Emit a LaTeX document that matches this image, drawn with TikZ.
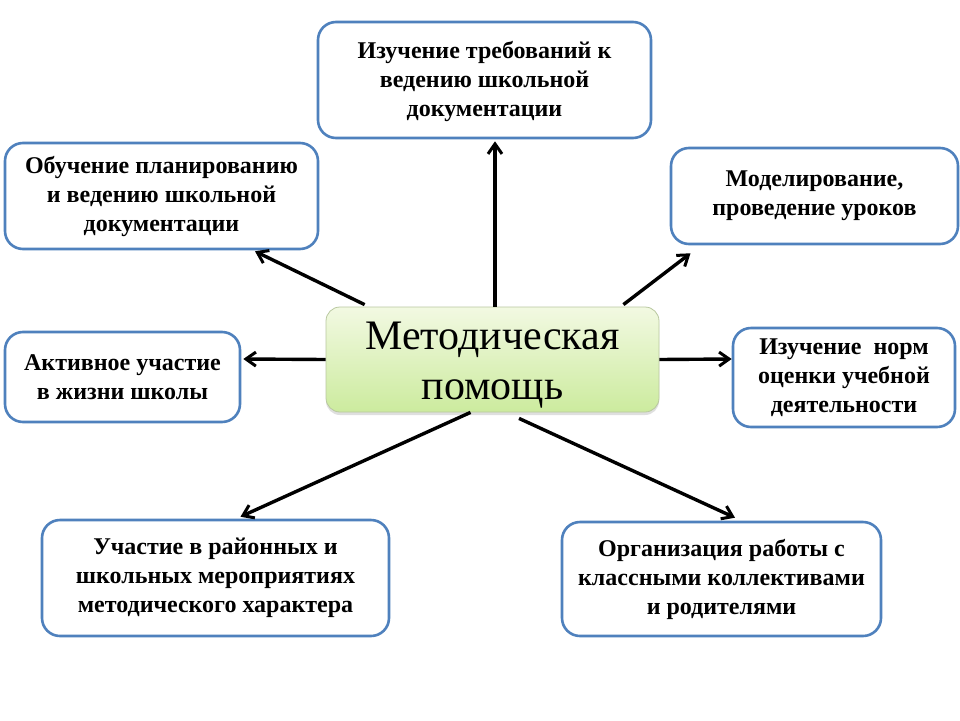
\documentclass[tikz,border=0pt]{standalone}
\usepackage{fontspec}
\setmainfont{Liberation Serif}
\usetikzlibrary{arrows.meta,shadows}
\definecolor{boxblue}{RGB}{79,129,189}
\definecolor{gtop}{RGB}{242,249,226}
\definecolor{gbot}{RGB}{204,235,158}
\definecolor{gborder}{RGB}{185,200,160}
\begin{document}
\begin{tikzpicture}[x=1pt,y=-1pt,
  infobox/.style={draw=boxblue, line width=2.6pt, rounded corners=18pt, fill=white,
    align=center, inner sep=0pt,
    font=\fontsize{24}{29}\selectfont\bfseries},
  centerbox/.style={draw=gborder, line width=0.8pt, rounded corners=14pt,
    top color=gtop, bottom color=gbot, align=center, inner sep=0pt,
    minimum width=333pt, minimum height=105pt,
    drop shadow={opacity=0.25, shadow xshift=0pt, shadow yshift=-3pt},
    font=\fontsize{42}{50}\selectfont},
  arr/.style={-{Straight Barb[length=10pt,width=14pt,line width=3pt]}, line width=3.4pt, black}
]
\useasboundingbox (0,0) rectangle (960,720);
\fill[white] (0,0) rectangle (960,720);

\node[centerbox] (c) at (492.5,359.5)
  {\raisebox{-5pt}[\height][\depth]{\begin{tabular}{@{}c@{}}Методическая\\помощь\end{tabular}}};

\node[infobox, minimum width=333pt, minimum height=116pt] (t) at (484.5,80)
  {\raisebox{-2pt}[\height][\depth]{\begin{tabular}{@{}c@{}}Изучение требований к\\ведению школьной\\документации\end{tabular}}};
\node[infobox, minimum width=313pt, minimum height=106pt] (tl) at (161.5,196)
  {Обучение планированию\\и ведению школьной\\документации};
\node[infobox, minimum width=287pt, minimum height=96pt] (tr) at (814.5,196)
  {Моделирование,\\проведение уроков};
\node[infobox, minimum width=235pt, minimum height=90pt] (l) at (122.5,377)
  {Активное участие\\в жизни школы};
\node[infobox, minimum width=222pt, minimum height=99pt] (r) at (844,377.5)
  {Изучение\ \ норм\\оценки учебной\\деятельности};
\node[infobox, minimum width=347pt, minimum height=116pt] (bl) at (215.5,578)
  {Участие в районных и\\школьных мероприятиях\\методического характера};
\node[infobox, minimum width=319pt, minimum height=114pt] (br) at (721.5,579)
  {Организация работы с\\классными коллективами\\и родителями};

\draw[arr] ([xshift=2.5pt]c.north) -- ([xshift=10.5pt,yshift=-2pt]t.south);
\draw[arr] ([xshift=39pt,yshift=2pt]c.north west) -- ([xshift=93.5pt,yshift=-1pt]tl.south);
\draw[arr] ([xshift=-36pt,yshift=2pt]c.north east) -- ([xshift=-124pt,yshift=-8pt]tr.south);
\draw[arr] (c.west) -- ([xshift=2pt,yshift=18pt]l.east);
\draw[arr] (c.east) -- ([yshift=18.5pt]r.west);
\draw[arr] ([xshift=-22pt]c.south) -- ([xshift=25pt,yshift=2pt]bl.north);
\draw[arr] ([xshift=26.5pt,yshift=-6pt]c.south) -- ([xshift=13.5pt,yshift=3pt]br.north);
\end{tikzpicture}
\end{document}
